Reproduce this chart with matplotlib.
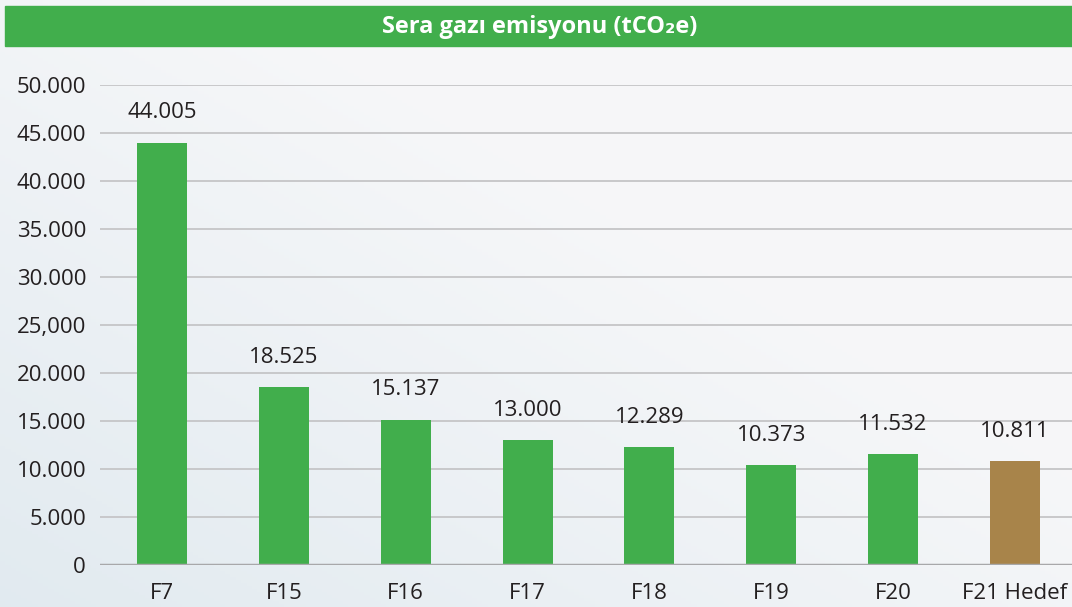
import matplotlib.pyplot as plt
import numpy as np

categories = ["F7", "F15", "F16", "F17", "F18", "F19", "F20", "F21 Hedef"]
values = [44005, 18525, 15137, 13000, 12289, 10373, 11532, 10811]
value_labels = ["44.005", "18.525", "15.137", "13.000", "12.289", "10.373", "11.532", "10.811"]
y_ticks = [0, 5000, 10000, 15000, 20000, 25000, 30000, 35000, 40000, 45000, 50000]
y_tick_labels = ["0", "5.000", "10.000", "15.000", "20.000", "25,000",
                 "30.000", "35.000", "40.000", "45.000", "50.000"]
title = "Sera gazı emisyonu (tCO₂e)"

green = "#41ae4c"
brown = "#a8844a"
colors = [green] * 7 + [brown]

plt.rcParams["font.family"] = ["Open Sans", "DejaVu Sans"]

fig = plt.figure(figsize=(10.72, 6.07), dpi=100)

# soft background gradient, bluish towards bottom-left
bg = fig.add_axes([0, 0, 1, 1])
yy, xx = np.mgrid[0:1:200j, 0:1:200j]
shade = np.clip((1 - xx) * 0.7 + (1 - yy) * 0.7 - 0.55, 0, 1)
top = np.array([0.965, 0.968, 0.975])
low = np.array([0.87, 0.91, 0.935])
img = top[None, None, :] * (1 - shade[..., None]) + low[None, None, :] * shade[..., None]
bg.imshow(img, extent=[0, 1, 0, 1], aspect="auto", origin="lower")
bg.set_axis_off()

# title bar
fig.patches.append(plt.Rectangle((5 / 1072, 1 - 46 / 607), 1, 40 / 607,
                                 transform=fig.transFigure, color=green, zorder=2))
fig.text(540 / 1072, 1 - 27 / 607, title, ha="center", va="center", color="white",
         fontsize=17, fontweight="bold", zorder=3)

ax = fig.add_axes([100 / 1072, 42 / 607, 1 - 100 / 1072, 480 / 607])
ax.set_facecolor("none")
x = np.arange(len(categories))
ax.bar(x, values, width=0.41, color=colors, zorder=3)
for xi, v, lab in zip(x, values, value_labels):
    ax.annotate(lab, (xi, v), xytext=(0, 14), textcoords="offset points",
                ha="center", va="bottom", fontsize=16, color="#231f20")

ax.set_ylim(0, 50000)
ax.set_xlim(-0.51, 7.47)
ax.set_yticks(y_ticks)
ax.set_yticklabels(y_tick_labels, fontsize=16, color="#231f20")
ax.set_xticks(x)
ax.set_xticklabels(categories, fontsize=16, color="#231f20")
ax.tick_params(axis="both", length=0)
ax.tick_params(axis="y", pad=10)
ax.tick_params(axis="x", pad=13)
ax.grid(axis="y", color="#c8c8ca", linewidth=1.4, zorder=0)
ax.axhline(0, color="#a8a8aa", linewidth=2.5, zorder=4)
for s in ax.spines.values():
    s.set_visible(False)

fig.savefig("out.png", dpi=100)
